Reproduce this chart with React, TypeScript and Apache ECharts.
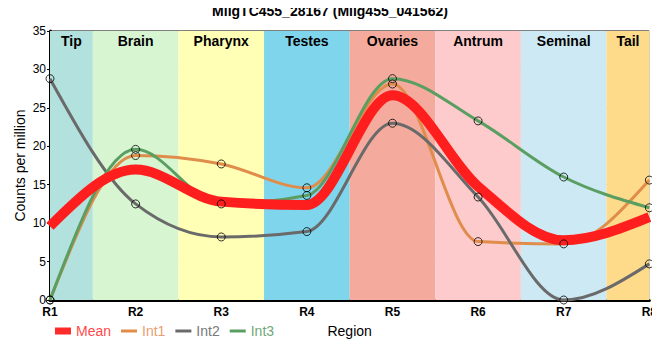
import React, { useEffect, useRef } from "react";
import * as echarts from "echarts";

const categories = ["R1", "R2", "R3", "R4", "R5", "R6", "R7", "R8"];
const regions = ["Tip", "Brain", "Pharynx", "Testes", "Ovaries", "Antrum", "Seminal", "Tail"];
const regionColors = ["#b3e1de", "#d7f5d1", "#ffffb5", "#7fd5ec", "#f4ab9d", "#fdcbcc", "#cde9f3", "#fedb8a"];
const int1 = [0, 18.8, 17.7, 14.6, 28.1, 7.6, 7.3, 15.6];
const int2 = [28.8, 12.5, 8.2, 8.9, 23.0, 13.4, 0, 4.7];
const int3 = [0, 19.6, 12.5, 13.6, 28.8, 23.3, 16.0, 12.0];
const mean = [9.6, 16.97, 12.8, 12.37, 26.63, 14.77, 7.77, 10.77];
const titleText = "MligTC455_28167 (Mlig455_041562)";

const SANS = "'Liberation Sans', Arial, sans-serif";
const LINE_ICON = "path://M0,0H16V3H0Z";

function sgn(v: number) {
  return v < 0 ? -1 : 1;
}

// monotone-x cubic path through pixel points
function monotonePath(pts: number[][]): string {
  const n = pts.length;
  const h: number[] = [];
  const s: number[] = [];
  for (let i = 0; i < n - 1; i++) {
    h[i] = pts[i + 1][0] - pts[i][0];
    s[i] = (pts[i + 1][1] - pts[i][1]) / h[i];
  }
  const t: number[] = new Array(n).fill(0);
  for (let i = 1; i < n - 1; i++) {
    const p = (s[i - 1] * h[i] + s[i] * h[i - 1]) / (h[i - 1] + h[i]);
    t[i] = (sgn(s[i - 1]) + sgn(s[i])) * Math.min(Math.abs(s[i - 1]), Math.abs(s[i]), 0.5 * Math.abs(p)) || 0;
  }
  t[0] = (3 * s[0] - t[1]) / 2;
  t[n - 1] = (3 * s[n - 2] - t[n - 2]) / 2;
  let d = `M${pts[0][0]},${pts[0][1]}`;
  for (let i = 0; i < n - 1; i++) {
    const [x0, y0] = pts[i];
    const [x1, y1] = pts[i + 1];
    const dx = (x1 - x0) / 3;
    d += `C${x0 + dx},${y0 + dx * t[i]},${x1 - dx},${y1 - dx * t[i + 1]},${x1},${y1}`;
  }
  return d;
}

export default function App() {
  const ref = useRef<HTMLDivElement>(null);
  useEffect(() => {
    if (!ref.current) return;
    const chart = echarts.init(ref.current, null, { renderer: "svg" });
    const toXY = (arr: number[]) => arr.map((v, i) => [i, v]);
    const bands = regions.map((name, i) => [
      {
        name,
        xAxis: Math.max(0, i - 0.5),
        itemStyle: { color: regionColors[i] },
      },
      { xAxis: Math.min(categories.length - 1, i + 0.5) },
    ]);
    const curveSeries = (id: string, data: number[], color: string, width: number, z: number) => ({
      name: id,
      type: "custom",
      coordinateSystem: "cartesian2d",
      data: toXY(data),
      encode: { x: 0, y: 1 },
      z,
      silent: true,
      renderItem: (params: any, api: any) => {
        if (params.dataIndex !== 0) return null;
        const pts = data.map((v, i) => api.coord([i, v]));
        return {
          type: "path",
          shape: { pathData: monotonePath(pts) },
          style: { fill: "none", stroke: color, lineWidth: width, lineJoin: "round" },
        };
      },
    });
    const legendSeries = (name: string, color: string) => ({
      name,
      type: "line",
      data: [],
      symbol: "none",
      lineStyle: { color, width: 3 },
      itemStyle: { color },
    });
    const markerSeries = (data: number[]) => ({
      name: "_m",
      type: "scatter",
      data: toXY(data),
      symbol: "circle",
      symbolSize: 8,
      z: 10,
      itemStyle: { color: "rgba(0,0,0,0)", borderColor: "#000", borderWidth: 1 },
      silent: true,
    });
    chart.setOption({
      animation: false,
      graphic: [
        {
          type: "text",
          x: 330,
          y: 11,
          z: 100,
          style: {
            text: titleText,
            fontFamily: SANS,
            fontWeight: "bold",
            fontSize: 14,
            fill: "#000",
            align: "center",
            verticalAlign: "middle",
          },
        },
      ],
      grid: { left: 50, right: 10, top: 31, bottom: 60, show: true, borderColor: "#000", borderWidth: 1 },
      legend: {
        left: 55,
        top: 324,
        padding: 0,
        itemWidth: 16,
        itemHeight: 7,
        itemGap: 10,
        symbolKeepAspect: true,
        textStyle: { fontFamily: SANS, fontSize: 14 },
        data: [
          { name: "Mean", icon: "rect", textStyle: { color: "#ff4a4a", width: 35 } },
          { name: "Int1", icon: LINE_ICON, textStyle: { color: "#e8a070", width: 29 } },
          { name: "Int2", icon: LINE_ICON, textStyle: { color: "#7a7a7a", width: 29 } },
          { name: "Int3", icon: LINE_ICON, textStyle: { color: "#70a878", width: 29 } },
        ],
      },
      xAxis: {
        type: "value",
        min: 0,
        max: categories.length - 1,
        interval: 1,
        name: "Region",
        nameLocation: "middle",
        nameGap: 24,
        nameMoveOverlap: false,
        nameTextStyle: { fontFamily: SANS, fontSize: 14, color: "#000" },
        axisLine: { lineStyle: { color: "#000", width: 3 } },
        axisTick: { show: false },
        axisLabel: {
          formatter: (v: number) => categories[v] ?? "",
          fontFamily: SANS,
          fontWeight: "bold",
          fontSize: 12,
          color: "#000",
          margin: 6,
        },
        splitLine: { show: true, lineStyle: { color: "#c8c8c8", width: 1 } },
      },
      yAxis: {
        type: "value",
        min: 0,
        max: 35,
        interval: 5,
        name: "Counts per million",
        nameLocation: "middle",
        nameGap: 23,
        nameMoveOverlap: false,
        nameTextStyle: { fontFamily: SANS, fontSize: 14, color: "#000" },
        axisLine: { show: true, lineStyle: { color: "#000", width: 3 } },
        axisTick: { show: true, length: 3, lineStyle: { color: "#000" } },
        axisLabel: { fontFamily: SANS, fontSize: 12, color: "#000", margin: 4 },
        splitLine: { show: true, lineStyle: { color: "#c8c8c8", width: 1 } },
      },
      series: [
        {
          name: "_bands",
          type: "line",
          data: [],
          silent: true,
          z: 0,
          markArea: {
            silent: true,
            label: {
              show: true,
              position: "insideTop",
              distance: 3,
              fontFamily: SANS,
              fontWeight: "bold",
              fontSize: 14,
              color: "#000",
            },
            data: bands,
          },
        },
        legendSeries("Mean", "#ff2a2a"),
        legendSeries("Int1", "#e08c4a"),
        legendSeries("Int2", "#6a6a6a"),
        legendSeries("Int3", "#5a9e62"),
        curveSeries("_int1", int1, "#e08c4a", 3, 3),
        curveSeries("_int2", int2, "#6a6a6a", 3, 3),
        curveSeries("_int3", int3, "#5a9e62", 3, 3),
        curveSeries("_mean", mean, "#ff1e1e", 10, 5),
        markerSeries(int1),
        markerSeries(int2),
        markerSeries(int3),
      ],
    });
    return () => chart.dispose();
  }, []);
  return <div ref={ref} style={{ width: 660, height: 360, margin: -8 }} />;
}
